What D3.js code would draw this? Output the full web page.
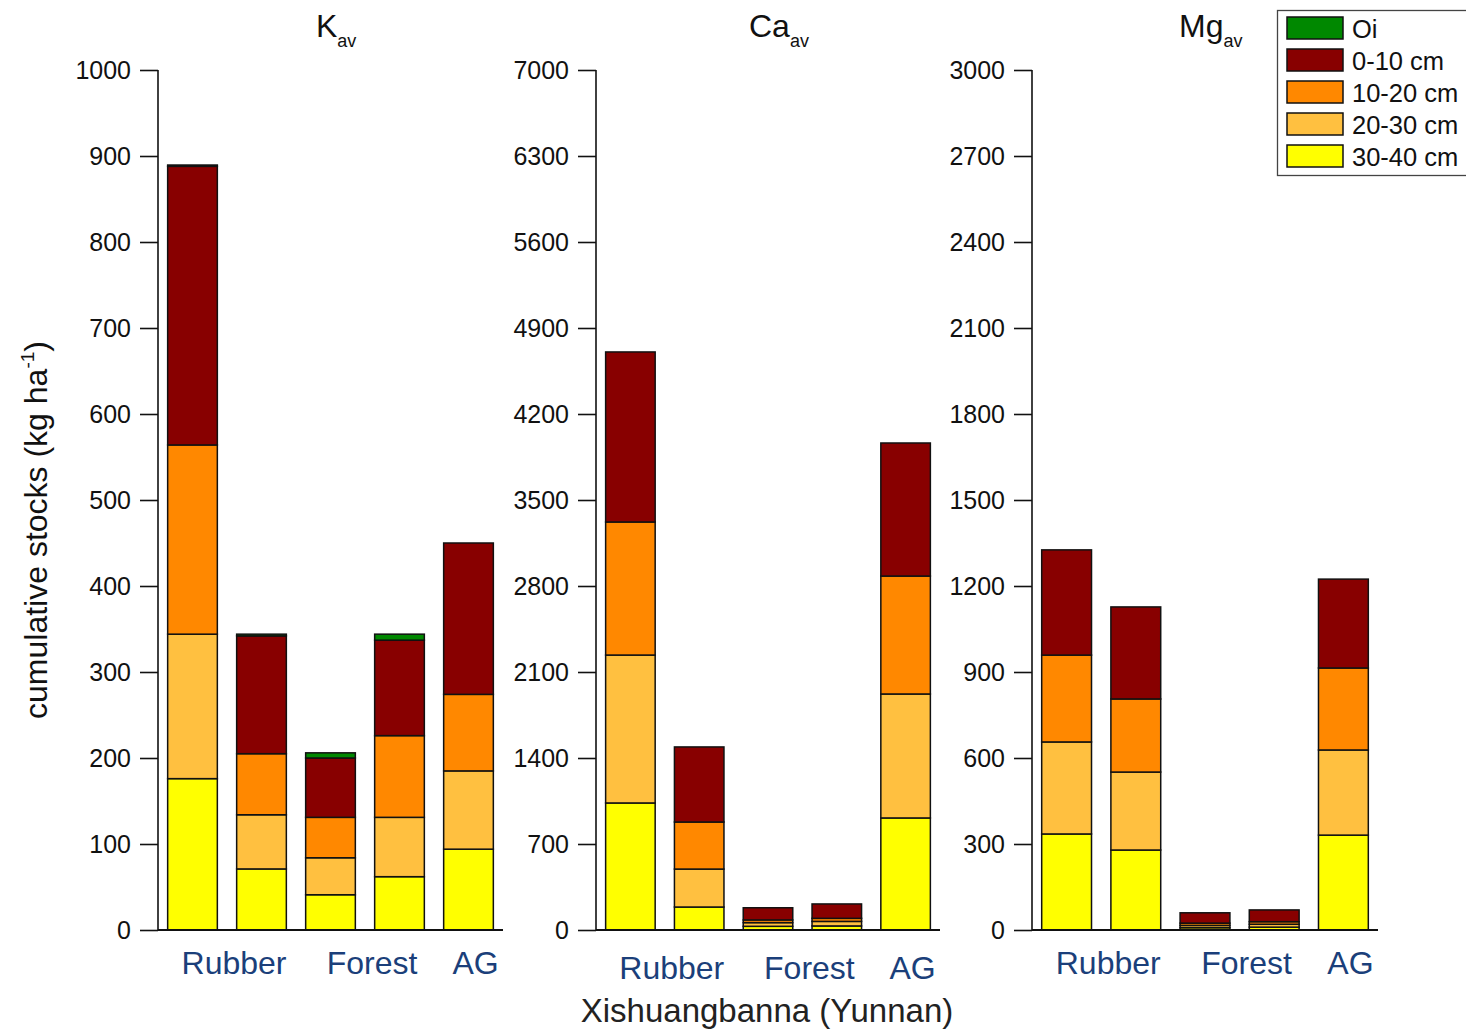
<!DOCTYPE html>
<html><head><meta charset="utf-8">
<script src="https://cdn.jsdelivr.net/npm/d3@7"></script>
<style>body{margin:0;background:#fff}svg{display:block}text{font-family:"Liberation Sans",Arial,sans-serif}</style>
</head><body>
<svg id="c" width="1466" height="1030"></svg>
<script>
// ---- data ----
const layers = ["30-40 cm", "20-30 cm", "10-20 cm", "0-10 cm", "Oi"];
const legendOrder = ["Oi", "0-10 cm", "10-20 cm", "20-30 cm", "30-40 cm"];
const layerColors = ["#ffff00", "#ffc040", "#ff8800", "#880000", "#008800"];
const bars = ["Rubber A", "Rubber B", "Forest A", "Forest B", "AG"];
const groupLabels = ["Rubber", "Forest", "AG"];
const groupBars = [[0, 1], [2, 3], [4, 4]];

// values per bar, order: 30-40, 20-30, 10-20, 0-10, Oi
const kValues = [
  [176, 168, 220, 324, 1.5],
  [71, 63, 71, 137, 2],
  [41, 43, 47, 69, 6],
  [62, 69, 95, 111, 7],
  [94, 91, 89, 176, 0]
];
const caValues = [
  [1034, 1204, 1083, 1384, 0],
  [187, 309, 383, 611, 0],
  [30, 30, 22, 99, 0],
  [33, 37, 25, 117, 0],
  [912, 1009, 960, 1083, 0]
];
const mgValues = [
  [335, 321, 303, 367, 0],
  [279, 272, 255, 321, 0],
  [8, 8, 8, 36, 0],
  [10, 10, 9, 41, 0],
  [331, 297, 286, 310, 0]
];
const kTicks = [0, 100, 200, 300, 400, 500, 600, 700, 800, 900, 1000];
const caTicks = [0, 700, 1400, 2100, 2800, 3500, 4200, 4900, 5600, 6300, 7000];
const mgTicks = [0, 300, 600, 900, 1200, 1500, 1800, 2100, 2400, 2700, 3000];

const panels = [
  {main: "K", sub: "av", values: kValues, ticks: kTicks, max: 1000, x0: 158, x1: 503, titleX: 316, labY: 974},
  {main: "Ca", sub: "av", values: caValues, ticks: caTicks, max: 7000, x0: 596, x1: 940, titleX: 749, labY: 979},
  {main: "Mg", sub: "av", values: mgValues, ticks: mgTicks, max: 3000, x0: 1032, x1: 1378, titleX: 1179, labY: 974}
];

const svg = d3.select("#c");
const yTop = 70, yBot = 930;
const color = d3.scaleOrdinal().domain(layers).range(layerColors);

panels.forEach(p => {
  const g = svg.append("g");
  const x = d3.scaleBand().domain(bars).range([p.x0, p.x1]).paddingInner(0.28).paddingOuter(0.14);
  const y = d3.scaleLinear().domain([0, p.max]).range([yBot, yTop]);
  const rows = bars.map((b, i) => {
    const o = {bar: b};
    layers.forEach((l, j) => o[l] = p.values[i][j]);
    return o;
  });
  const stacked = d3.stack().keys(layers)(rows);
  g.selectAll("g.layer").data(stacked).join("g").attr("class", "layer")
    .attr("fill", d => color(d.key))
    .selectAll("rect").data(d => d.filter(s => s[1] - s[0] > 0)).join("rect")
    .attr("x", d => x(d.data.bar))
    .attr("width", x.bandwidth())
    .attr("y", d => y(d[1]))
    .attr("height", d => y(d[0]) - y(d[1]))
    .attr("stroke", "#111").attr("stroke-width", 1.5);

  // y axis
  const ya = g.append("g").attr("transform", `translate(${p.x0},0)`)
    .call(d3.axisLeft(y).tickValues(p.ticks).tickSize(18).tickPadding(9).tickFormat(d3.format("d")));
  ya.select(".domain").attr("stroke", "#111").attr("stroke-width", 1.6).attr("d", `M0,${yBot}V${yTop}`);
  ya.selectAll(".tick line").attr("stroke", "#111").attr("stroke-width", 1.6);
  ya.selectAll(".tick text").attr("font-size", 25).attr("fill", "#111").attr("dy", "0.33em");
  // x axis line
  g.append("line").attr("x1", p.x0).attr("x2", p.x1).attr("y1", yBot).attr("y2", yBot)
    .attr("stroke", "#111").attr("stroke-width", 1.8);
  // group labels
  groupLabels.forEach((lab, i) => {
    const [a, b] = groupBars[i];
    const cx = (x(bars[a]) + x(bars[b]) + x.bandwidth()) / 2 + 7;
    g.append("text").attr("x", cx).attr("y", p.labY).attr("text-anchor", "middle")
      .attr("font-size", 32).attr("fill", "#1b3f7a").text(lab);
  });
  // title
  const t = g.append("text").attr("x", p.titleX).attr("y", 37).attr("font-size", 32).attr("fill", "#111");
  t.append("tspan").text(p.main);
  t.append("tspan").attr("font-size", 18).attr("dy", 10).text(p.sub);
});

// y title
const yt = svg.append("text").attr("transform", "translate(47,530) rotate(-90)")
  .attr("text-anchor", "middle").attr("font-size", 32).attr("fill", "#111");
yt.append("tspan").text("cumulative stocks (kg ha");
yt.append("tspan").attr("font-size", 19).attr("dy", -13).text("-1");
yt.append("tspan").attr("dy", 13).text(")");

// x title
svg.append("text").attr("x", 767).attr("y", 1022).attr("text-anchor", "middle")
  .attr("font-size", 33).attr("fill", "#222").text("Xishuangbanna (Yunnan)");

// legend
const lg = svg.append("g");
lg.append("rect").attr("x", 1277.5).attr("y", 10.5).attr("width", 200).attr("height", 165)
  .attr("fill", "#fff").attr("stroke", "#444").attr("stroke-width", 1.3);
legendOrder.forEach((l, i) => {
  const yy = 17 + i * 32;
  lg.append("rect").attr("x", 1287).attr("y", yy).attr("width", 56).attr("height", 22)
    .attr("fill", color(l)).attr("stroke", "#111").attr("stroke-width", 1.5);
  lg.append("text").attr("x", 1352).attr("y", yy + 21).attr("font-size", 25.5).attr("fill", "#111").text(l);
});
</script>
</body></html>
